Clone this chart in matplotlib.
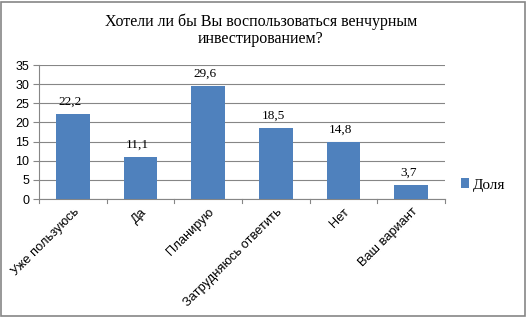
import matplotlib.pyplot as plt
from matplotlib.patches import Rectangle

categories = ['Уже пользуюсь', 'Да', 'Планирую', 'Затрудняюсь ответить', 'Нет', 'Ваш вариант']
values = [22.2, 11.1, 29.6, 18.5, 14.8, 3.7]
value_labels = ['22,2', '11,1', '29,6', '18,5', '14,8', '3,7']
y_ticks = [0, 5, 10, 15, 20, 25, 30, 35]

W, H = 527, 317
fig = plt.figure(figsize=(W / 100, H / 100), dpi=100)
ax = fig.add_axes([39 / W, 1 - 199 / H, 406 / W, 134 / H])

bar_color = '#4F81BD'
x = range(len(categories))
ax.bar(x, values, width=0.5, color=bar_color, zorder=3, label='Доля')
ax.set_xlim(-0.5, len(categories) - 0.5)
ax.set_ylim(0, 35)
ax.set_yticks(y_ticks)
ax.set_yticklabels([str(t) for t in y_ticks], fontsize=9, family='Liberation Sans')
ax.yaxis.grid(True, color='#868686', linewidth=0.8, zorder=0)

ax.set_xticks(x)
ax.set_xticklabels(categories, rotation=45, ha='right', rotation_mode='anchor',
                   fontsize=9.3, family='Liberation Sans')
ax.tick_params(axis='x', length=0, pad=5)
ax.tick_params(axis='y', length=4, color='#868686', pad=3)
# category separators
for b in range(len(categories) + 1):
    ax.plot([b - 0.5, b - 0.5], [0, -1.0], color='#868686', lw=0.8, clip_on=False)

for s in ['top', 'right']:
    ax.spines[s].set_visible(False)
for s in ['left', 'bottom']:
    ax.spines[s].set_color('#868686')
    ax.spines[s].set_linewidth(0.8)

for i, v in enumerate(values):
    ax.text(i - 0.04, v + 2.4, value_labels[i], ha='center', va='baseline', fontsize=9.5,
            family='Liberation Serif')

fig.text(261 / W, 1 - 30 / H, 'Хотели ли бы Вы воспользоваться венчурным\nинвестированием?',
         ha='center', va='center', fontsize=11.5, family='Liberation Serif', linespacing=1.1)

leg = ax.legend(loc='center left', bbox_to_anchor=(461 / W, 1 - 185 / H),
                bbox_transform=fig.transFigure, frameon=False,
                prop={'family': 'Liberation Serif', 'size': 11},
                handlelength=0.55, handleheight=0.55, handletextpad=0.25,
                borderpad=0, borderaxespad=0)

fig.patches.append(Rectangle((1 / W, 1 / H), (W - 3) / W, (H - 3) / H,
                             transform=fig.transFigure, fill=False,
                             edgecolor='#868686', linewidth=1.2))

fig.savefig('out.png', dpi=100)
